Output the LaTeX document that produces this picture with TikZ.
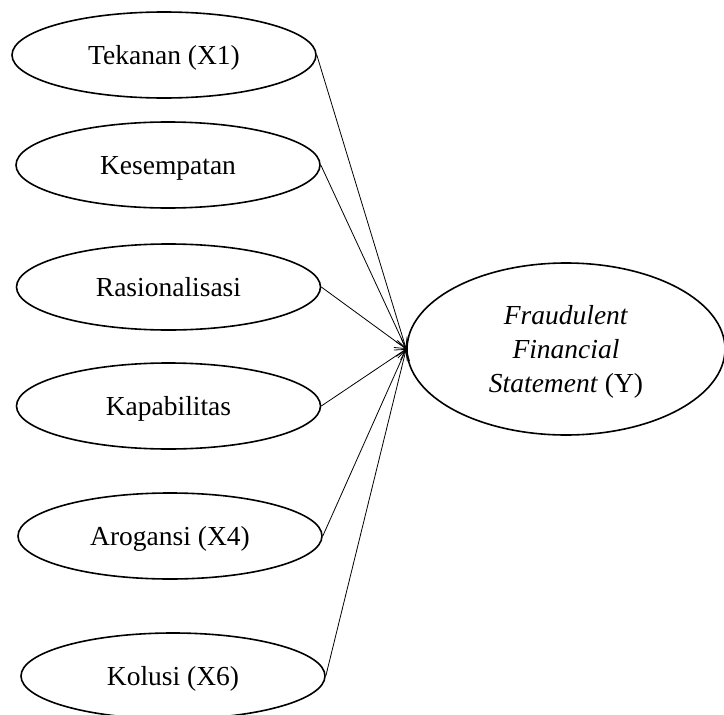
\documentclass[tikz,border=0pt]{standalone}
\usepackage{fontspec}
\setmainfont{Liberation Serif}
\usetikzlibrary{shapes.geometric, arrows.meta}

\tikzset{
  var/.style={draw, ellipse, line width=1.6pt, inner sep=0pt,
    minimum width=304pt, minimum height=86pt, text depth=0pt,
    font=\fontsize{27.5}{34}\selectfont},
  dep/.style={var, minimum width=318pt, minimum height=172pt, align=center},
  path/.style={-{Straight Barb[length=10pt,width=12pt]}, line width=0.8pt}
}

\begin{document}
\begin{tikzpicture}[x=1pt,y=-1pt]
				\useasboundingbox (0,0) rectangle (724,715);
				% independent variables
				\node[var] (tekanan) at (164,55) {Tekanan (X1)};
				\node[var] (kesempatan) at (168,165) {Kesempatan};
				\node[var] (rasionalisasi) at (168.5,287) {Rasionalisasi};
				\node[var] (kapabilitas) at (168.5,406) {Kapabilitas};
				\node[var] (arogansi) at (170,536) {Arogansi (X4)};
				\node[var] (kolusi) at (173,676) {Kolusi (X6)};
				% dependent variable
				\node[dep] (fraud) at (566,349) {\textit{Fraudulent}\\\textit{Financial}\\\textit{Statement} (Y)};
				
				\draw[path] (tekanan.east) -- (fraud.west);
				\draw[path] (kesempatan.east) -- (fraud.west);
				\draw[path] (rasionalisasi.east) -- (fraud.west);
				\draw[path] (kapabilitas.east) -- (fraud.west);
				\draw[path] (arogansi.east) -- (fraud.west);
				\draw[path] (kolusi.east) -- (fraud.west);
				
			\end{tikzpicture}
\end{document}
